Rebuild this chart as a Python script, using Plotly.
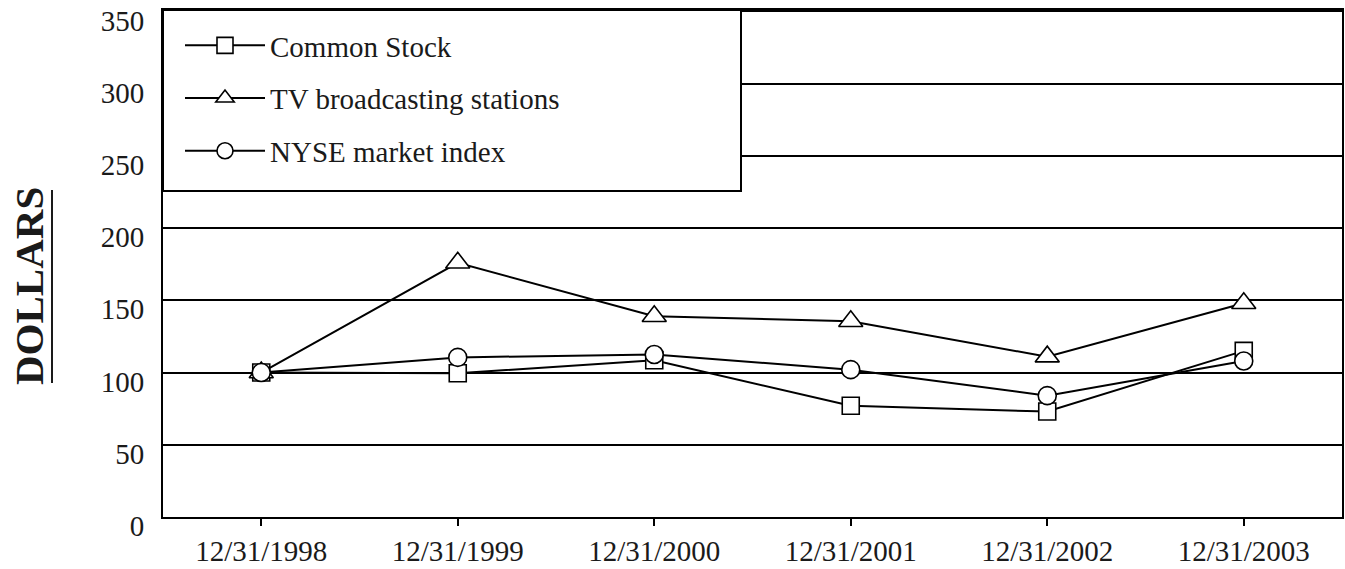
import plotly.graph_objects as go

dates = ["12/31/1998", "12/31/1999", "12/31/2000", "12/31/2001", "12/31/2002", "12/31/2003"]
common_stock = [100, 99.5, 108.5, 77, 73, 115]
tv_stations = [100, 176, 139, 135.5, 111, 148]
nyse_index = [100, 110.5, 112.5, 102, 84, 108]
y_ticks = [0, 50, 100, 150, 200, 250, 300, 350]

FONT = "Liberation Serif"
fig = go.Figure()

series = [
    ("Common Stock", common_stock, "square", 17),
    ("TV broadcasting stations", tv_stations, "triangle-up", 21),
    ("NYSE market index", nyse_index, "circle", 18),
]
for i, (name, vals, sym, sz) in enumerate(series):
    fig.add_trace(go.Scatter(
        x=dates, y=vals, name=name, mode="lines+markers",
        legendgroup="g%d" % i,
        line=dict(color="black", width=2),
        marker=dict(symbol=sym, size=sz, color="white", line=dict(color="black", width=1.6)),
    ))

PLOT_W = 1179
PLOT_H = 507
fig.update_layout(
    width=1345, height=569,
    margin=dict(l=163, r=3, t=10, b=52, autoexpand=False),
    paper_bgcolor="white", plot_bgcolor="white",
    font=dict(family=FONT, size=29, color="#1a1a1a"),
    showlegend=True,
    legend=dict(
        x=17 / PLOT_W, y=1 - 10 / PLOT_H, xanchor="left", yanchor="top",
        bgcolor="rgba(0,0,0,0)", borderwidth=0,
        font=dict(family=FONT, size=29, color="#1a1a1a"),
        tracegroupgap=12, itemwidth=80,
    ),
    shapes=[
        dict(
            type="rect", xref="paper", yref="paper", layer="above",
            x0=0, x1=578 / PLOT_W, y0=1 - 181 / PLOT_H, y1=1,
            fillcolor="white", line=dict(color="black", width=2),
        ),
        dict(
            type="line", xref="paper", yref="paper",
            x0=-111 / PLOT_W, x1=-111 / PLOT_W, y0=134 / PLOT_H, y1=327 / PLOT_H,
            line=dict(color="#1a1a1a", width=2),
        ),
    ],
    xaxis=dict(
        type="category", range=[-0.5, 5.5],
        showgrid=False, showline=True, linecolor="black", linewidth=2, mirror=True,
        ticks="outside", ticklen=7, tickcolor="black", tickwidth=2,
        tickfont=dict(family=FONT, size=29), automargin=False,
    ),
    yaxis=dict(
        range=[0, 351], tickvals=y_ticks, showgrid=True, gridcolor="black", gridwidth=2,
        showline=True, linecolor="black", linewidth=2, mirror=True,
        zeroline=False, ticks="", ticklabelstandoff=11, ticklabeloverflow="allow",
        ticklabelshift=9,
        tickfont=dict(family=FONT, size=29), automargin=False,
    ),
    annotations=[dict(
        text="<b>DOLLARS</b>", xref="paper", yref="paper",
        x=-134 / PLOT_W, y=(517 - 286) / PLOT_H, xanchor="center", yanchor="middle", textangle=-90,
        showarrow=False, font=dict(family=FONT, size=41, color="#1a1a1a"),
    )],
)

fig.write_html("out.html", config={"displayModeBar": False},
               post_script="document.body.style.margin='0';")
